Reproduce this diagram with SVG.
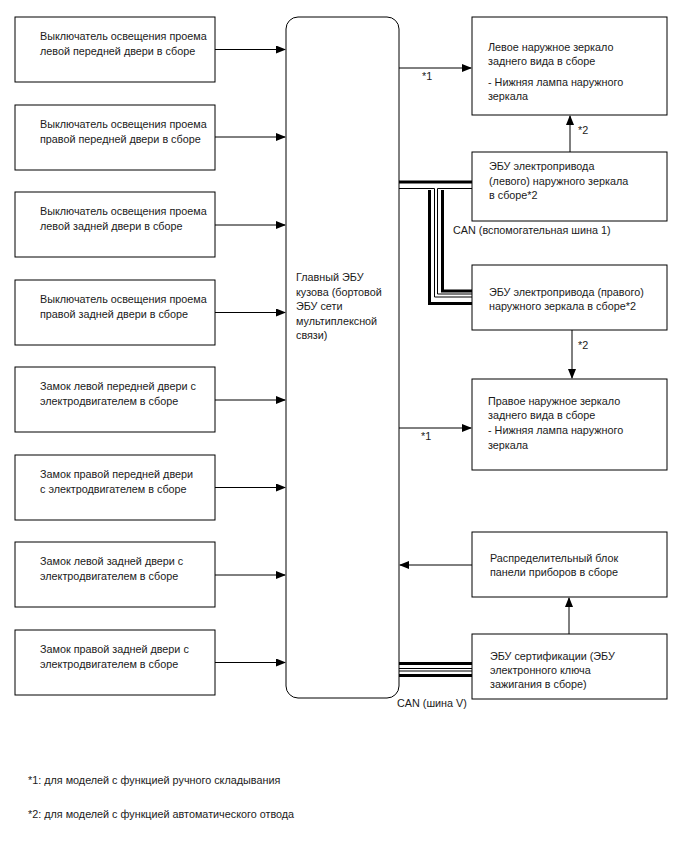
<svg xmlns="http://www.w3.org/2000/svg" width="688" height="852" viewBox="0 0 688 852">
<style>
.box{fill:#fff;stroke:#000;stroke-width:1}
.t{font-family:"Liberation Sans",Arial,sans-serif;font-size:10.8px;fill:#1a1a1a}
.ln{fill:none;stroke:#000;stroke-width:1}
.thk{fill:none;stroke:#000;stroke-width:3}
</style>
<defs>
<marker id="ah" markerWidth="10" markerHeight="8" refX="9" refY="4" orient="auto" markerUnits="userSpaceOnUse">
<path d="M0,0 L10,4 L0,8 Z" fill="#000"/>
</marker>
</defs>
<rect width="688" height="852" fill="#fff"/>

<g id="connectors">
<path class="ln" d="M215,49.5 H285" marker-end="url(#ah)"/>
<path class="ln" d="M215,137 H285" marker-end="url(#ah)"/>
<path class="ln" d="M215,225 H285" marker-end="url(#ah)"/>
<path class="ln" d="M215,312.5 H285" marker-end="url(#ah)"/>
<path class="ln" d="M215,400 H285" marker-end="url(#ah)"/>
<path class="ln" d="M215,487.5 H285" marker-end="url(#ah)"/>
<path class="ln" d="M215,575 H285" marker-end="url(#ah)"/>
<path class="ln" d="M215,662.5 H285" marker-end="url(#ah)"/>
<path class="ln" d="M399,68 H471" marker-end="url(#ah)"/>
<path class="ln" d="M399,428 H471" marker-end="url(#ah)"/>
<path class="ln" d="M570,152 V116" marker-end="url(#ah)"/>
<path class="ln" d="M572,330 V378" marker-end="url(#ah)"/>
<path class="ln" d="M472,565 H400" marker-end="url(#ah)"/>
<path class="ln" d="M569,634 V598" marker-end="url(#ah)"/>
<!-- CAN sub bus 1 -->
<path class="thk" d="M399,182 H472"/>
<path class="ln" d="M399,188.5 H434.5 V297 H472"/>
<path class="ln" d="M472,188.5 H437.5 V294 H472"/>
<path class="thk" d="M429.5,190 V303.5 H472"/>
<path class="thk" d="M442.5,190 V291 H472"/>
<!-- CAN V bus -->
<path class="thk" d="M399,663.5 H472"/>
<path class="ln" d="M399,668.5 H472"/>
<path class="ln" d="M399,671 H472"/>
<path class="thk" d="M399,675.5 H472"/>
<text class="t" x="422" y="80">*1</text>
<text class="t" x="421" y="440">*1</text>
<text class="t" x="578" y="134">*2</text>
<text class="t" x="578" y="349">*2</text>
<text class="t" x="453" y="234">CAN (вспомогательная шина 1)</text>
<text class="t" x="397" y="707">CAN (шина V)</text>
</g>

<g id="sw_lf"><rect class="box" x="15" y="17" width="200" height="65"/>
<text class="t" x="40" y="40">Выключатель освещения проема</text>
<text class="t" x="40" y="55">левой передней двери в сборе</text></g>
<g id="sw_rf"><rect class="box" x="15" y="105" width="200" height="65"/>
<text class="t" x="40" y="128">Выключатель освещения проема</text>
<text class="t" x="40" y="143">правой передней двери в сборе</text></g>
<g id="sw_lr"><rect class="box" x="15" y="192" width="200" height="65"/>
<text class="t" x="40" y="215">Выключатель освещения проема</text>
<text class="t" x="40" y="230">левой задней двери в сборе</text></g>
<g id="sw_rr"><rect class="box" x="15" y="280" width="200" height="65"/>
<text class="t" x="40" y="303">Выключатель освещения проема</text>
<text class="t" x="40" y="318">правой задней двери в сборе</text></g>
<g id="lock_lf"><rect class="box" x="15" y="367" width="200" height="65"/>
<text class="t" x="40" y="390">Замок левой передней двери с</text>
<text class="t" x="40" y="405">электродвигателем в сборе</text></g>
<g id="lock_rf"><rect class="box" x="15" y="455" width="200" height="65"/>
<text class="t" x="40" y="478">Замок правой передней двери</text>
<text class="t" x="40" y="493">с электродвигателем в сборе</text></g>
<g id="lock_lr"><rect class="box" x="15" y="542" width="200" height="65"/>
<text class="t" x="40" y="565">Замок левой задней двери с</text>
<text class="t" x="40" y="580">электродвигателем в сборе</text></g>
<g id="lock_rr"><rect class="box" x="15" y="630" width="200" height="65"/>
<text class="t" x="40" y="653">Замок правой задней двери с</text>
<text class="t" x="40" y="668">электродвигателем в сборе</text></g>

<g id="main_ecu"><rect class="box" x="286" y="17" width="113" height="681" rx="12" ry="12"/>
<text class="t" x="296" y="281">Главный ЭБУ</text>
<text class="t" x="296" y="295.5">кузова (бортовой</text>
<text class="t" x="296" y="310">ЭБУ сети</text>
<text class="t" x="296" y="324.5">мультиплексной</text>
<text class="t" x="296" y="339">связи)</text></g>

<g id="mirror_l"><rect class="box" x="472" y="17" width="195" height="98"/>
<text class="t" x="488" y="51">Левое наружное зеркало</text>
<text class="t" x="488" y="65">заднего вида в сборе</text>
<text class="t" x="488" y="86">- Нижняя лампа наружного</text>
<text class="t" x="488" y="100">зеркала</text></g>
<g id="ecu_mirror_l"><rect class="box" x="472" y="152" width="195" height="69"/>
<text class="t" x="489" y="170">ЭБУ электропривода</text>
<text class="t" x="489" y="185">(левого) наружного зеркала</text>
<text class="t" x="489" y="199">в сборе*2</text></g>
<g id="ecu_mirror_r"><rect class="box" x="472" y="265" width="195" height="65"/>
<text class="t" x="489" y="296">ЭБУ электропривода (правого)</text>
<text class="t" x="489" y="310">наружного зеркала в сборе*2</text></g>
<g id="mirror_r"><rect class="box" x="472" y="379" width="195" height="91"/>
<text class="t" x="488" y="405">Правое наружное зеркало</text>
<text class="t" x="488" y="419">заднего вида в сборе</text>
<text class="t" x="488" y="434">- Нижняя лампа наружного</text>
<text class="t" x="488" y="449">зеркала</text></g>
<g id="junction_block"><rect class="box" x="472" y="532" width="195" height="65"/>
<text class="t" x="490" y="562">Распределительный блок</text>
<text class="t" x="490" y="576">панели приборов в сборе</text></g>
<g id="cert_ecu"><rect class="box" x="472" y="634" width="195" height="65"/>
<text class="t" x="490" y="660">ЭБУ сертификации (ЭБУ</text>
<text class="t" x="490" y="674">электронного ключа</text>
<text class="t" x="490" y="688">зажигания в сборе)</text></g>

<g id="notes">
<text class="t" x="28" y="784">*1: для моделей с функцией ручного складывания</text>
<text class="t" x="28" y="818">*2: для моделей с функцией автоматического отвода</text>
</g>
</svg>
